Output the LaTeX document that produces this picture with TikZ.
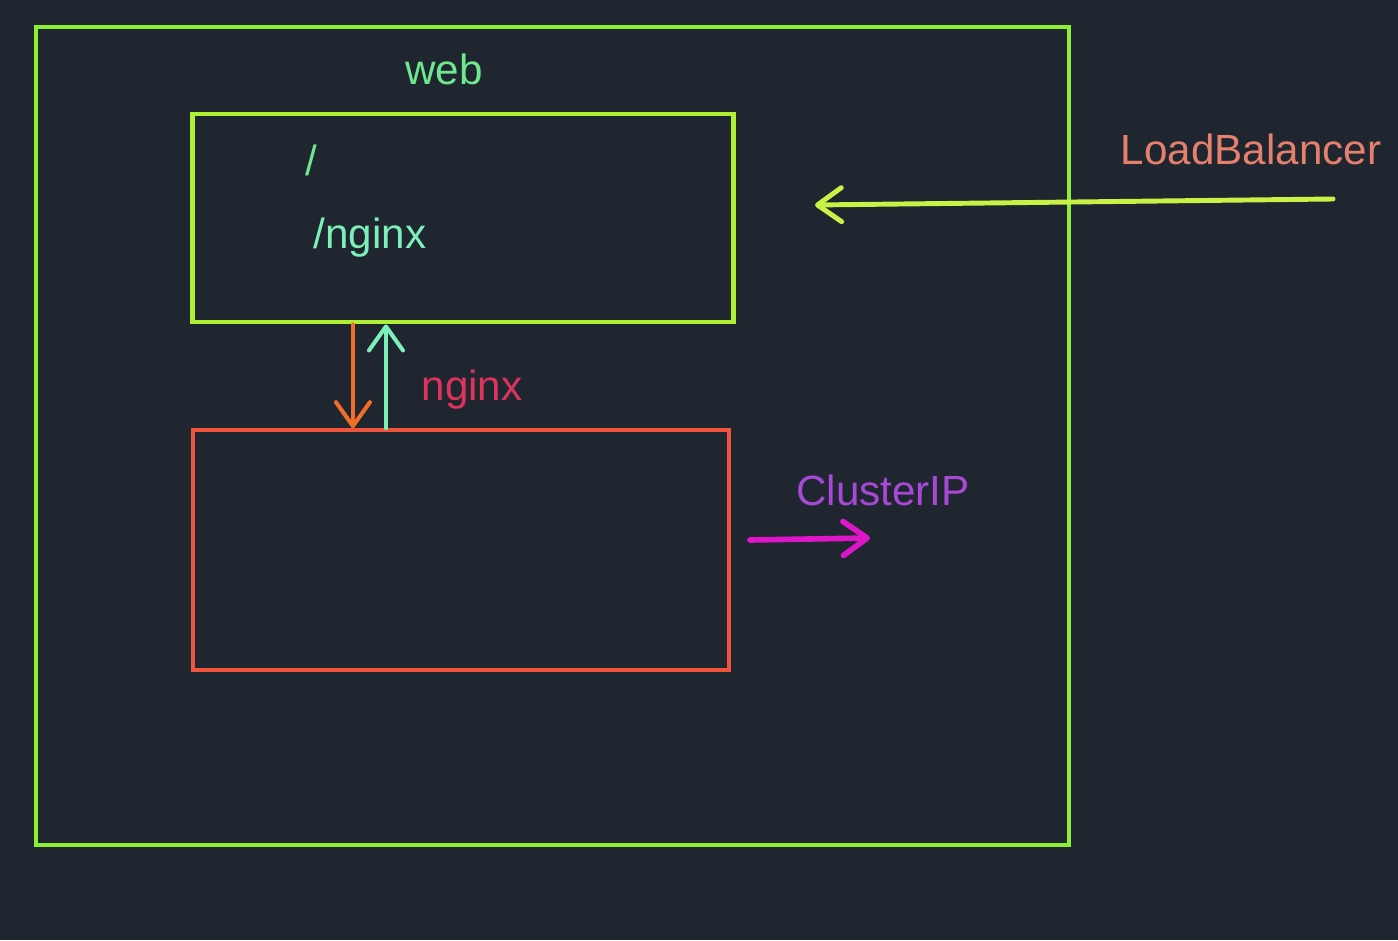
\documentclass[tikz,border=0pt]{standalone}
\usepackage{fontspec}
\setmainfont{Liberation Sans}
\usetikzlibrary{arrows.meta}
\definecolor{mybg}{RGB}{31,38,48}
\definecolor{mylime}{RGB}{140,240,50}
\definecolor{mylightlime}{RGB}{175,240,55}
\definecolor{myredorange}{RGB}{238,85,60}
\definecolor{mymint}{RGB}{110,232,140}
\definecolor{mylightmint}{RGB}{125,240,185}
\definecolor{mycrimson}{RGB}{222,52,92}
\definecolor{mysalmon}{RGB}{228,128,108}
\definecolor{mypurple}{RGB}{168,72,215}
\definecolor{myorange}{RGB}{240,110,40}
\definecolor{mymagenta}{RGB}{222,22,200}
\definecolor{myarrowlime}{RGB}{200,242,70}
\newcommand{\widthweb}{10.33cm}
\newcommand{\heightweb}{8.18cm}
\newcommand{\widthbox}{5.4cm}
\tikzset{
    box/.style={draw, rectangle, inner sep=0pt},
    lbl/.style={font=\fontsize{12}{14}\selectfont, inner sep=0pt},
    flow/.style={-{Straight Barb[round, length=2.4mm, width=3.4mm]}, line width=1.15pt, line cap=round}
}
\begin{document}
\begin{tikzpicture}[x=0.01cm, y=-0.01cm]
            \fill[mybg] (0,0) rectangle (1398,940);

            \node[box, mylime, line width=1.15pt, minimum width=\widthweb, minimum height=\heightweb] (web) at (552.5,436) {};
            \node[lbl, mymint] (web-label) at (444,69) {web};

            \node[box, mylightlime, line width=1.35pt, minimum width=\widthbox, minimum height=2.08cm] (ingress) at (463,218) {};
            \node[lbl, mymint] (path-root) at (311,160) {/};
            \node[lbl, mylightmint] (path-nginx) at (370,238) {/nginx};

            \node[box, myredorange, line width=1pt, minimum width=5.36cm, minimum height=2.4cm] (nginx) at (461,550) {};
            \node[lbl, mycrimson] (nginx-label) at (472,390) {nginx};

            \coordinate (lb-start) at (1333,199);
            \coordinate (lb-end) at (815,205);
            \node[lbl, mysalmon] (lb-label) at (1251,149) {LoadBalancer};

            \coordinate (cip-end) at (870,538);
            \node[lbl, mypurple] (cip-label) at (883,490) {ClusterIP};

            \draw[flow, myarrowlime, line width=1.4pt] (lb-start) -- (lb-end);
            \draw[flow, myorange] ([xshift=-1.1cm]ingress.south) -- ([xshift=-1.1cm]ingress.south |- nginx.north);
            \draw[flow, mylightmint] ([xshift=-0.75cm]nginx.north) -- ([xshift=-0.75cm]nginx.north |- ingress.south);
            \draw[flow, mymagenta, line width=1.6pt] ([xshift=0.19cm, yshift=0.1cm]nginx.east) -- (cip-end);
        \end{tikzpicture}
\end{document}
